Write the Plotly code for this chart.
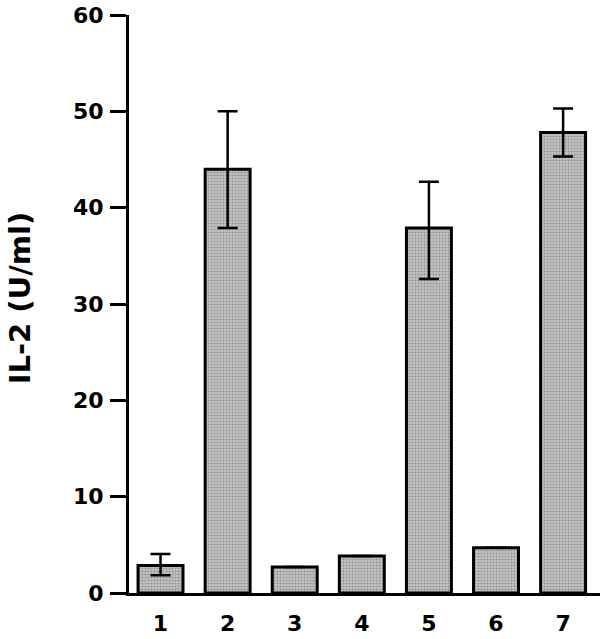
import plotly.graph_objects as go

categories = [1, 2, 3, 4, 5, 6, 7]
values = [2.85, 44.0, 2.7, 3.85, 37.9, 4.7, 47.8]
err_plus = [1.2, 6.0, 0, 0, 4.8, 0, 2.5]
err_minus = [1.0, 6.1, 0, 0, 5.3, 0, 2.5]
y_ticks = [0, 10, 20, 30, 40, 50, 60]

FAM = "DejaVu Sans, Liberation Sans, Arial, sans-serif"
tick_font = dict(family=FAM, size=22, color="black", weight="bold")

fig = go.Figure()
fig.add_trace(go.Bar(
    x=categories, y=values,
    marker=dict(color="#b0b0b0", line=dict(color="black", width=3),
                pattern=dict(shape=".", fgcolor="#606060", bgcolor="#c4c4c4", size=3, solidity=0.4)),
    error_y=dict(type="data", symmetric=False, array=err_plus, arrayminus=err_minus,
                 color="black", thickness=2.5, width=10, visible=True),
))

fig.update_layout(
    width=601, height=639,
    margin=dict(l=129, r=1, t=15, b=46, autoexpand=False),
    paper_bgcolor="white", plot_bgcolor="white",
    bargap=0.33, showlegend=False,
    font=tick_font,
)
fig.update_xaxes(
    range=[0.53, 7.55], tickmode="array", tickvals=categories,
    ticktext=[str(c) for c in categories],
    showline=True, linecolor="black", linewidth=3,
    ticks="outside", ticklen=9, tickcolor="rgba(0,0,0,0)",
    showgrid=False, zeroline=False, tickfont=tick_font, automargin=False,
)
fig.update_yaxes(
    range=[0, 60], tickmode="array", tickvals=y_ticks,
    showline=True, linecolor="black", linewidth=3,
    ticks="outside", ticklen=16, tickwidth=3, tickcolor="black",
    ticklabelstandoff=2, ticklabeloverflow="allow",
    showgrid=False, zeroline=False, tickfont=tick_font, automargin=False,
)
fig.add_annotation(
    text="IL-2 (U/ml)", textangle=-90, showarrow=False,
    xref="paper", yref="paper", x=0, y=0.51, xanchor="center", yanchor="middle",
    xshift=-109,
    font=dict(family=FAM, size=29, color="black", weight="bold"),
)

fig.write_html("out.html", config={"displayModeBar": False},
               post_script="document.body.style.margin='0';")
